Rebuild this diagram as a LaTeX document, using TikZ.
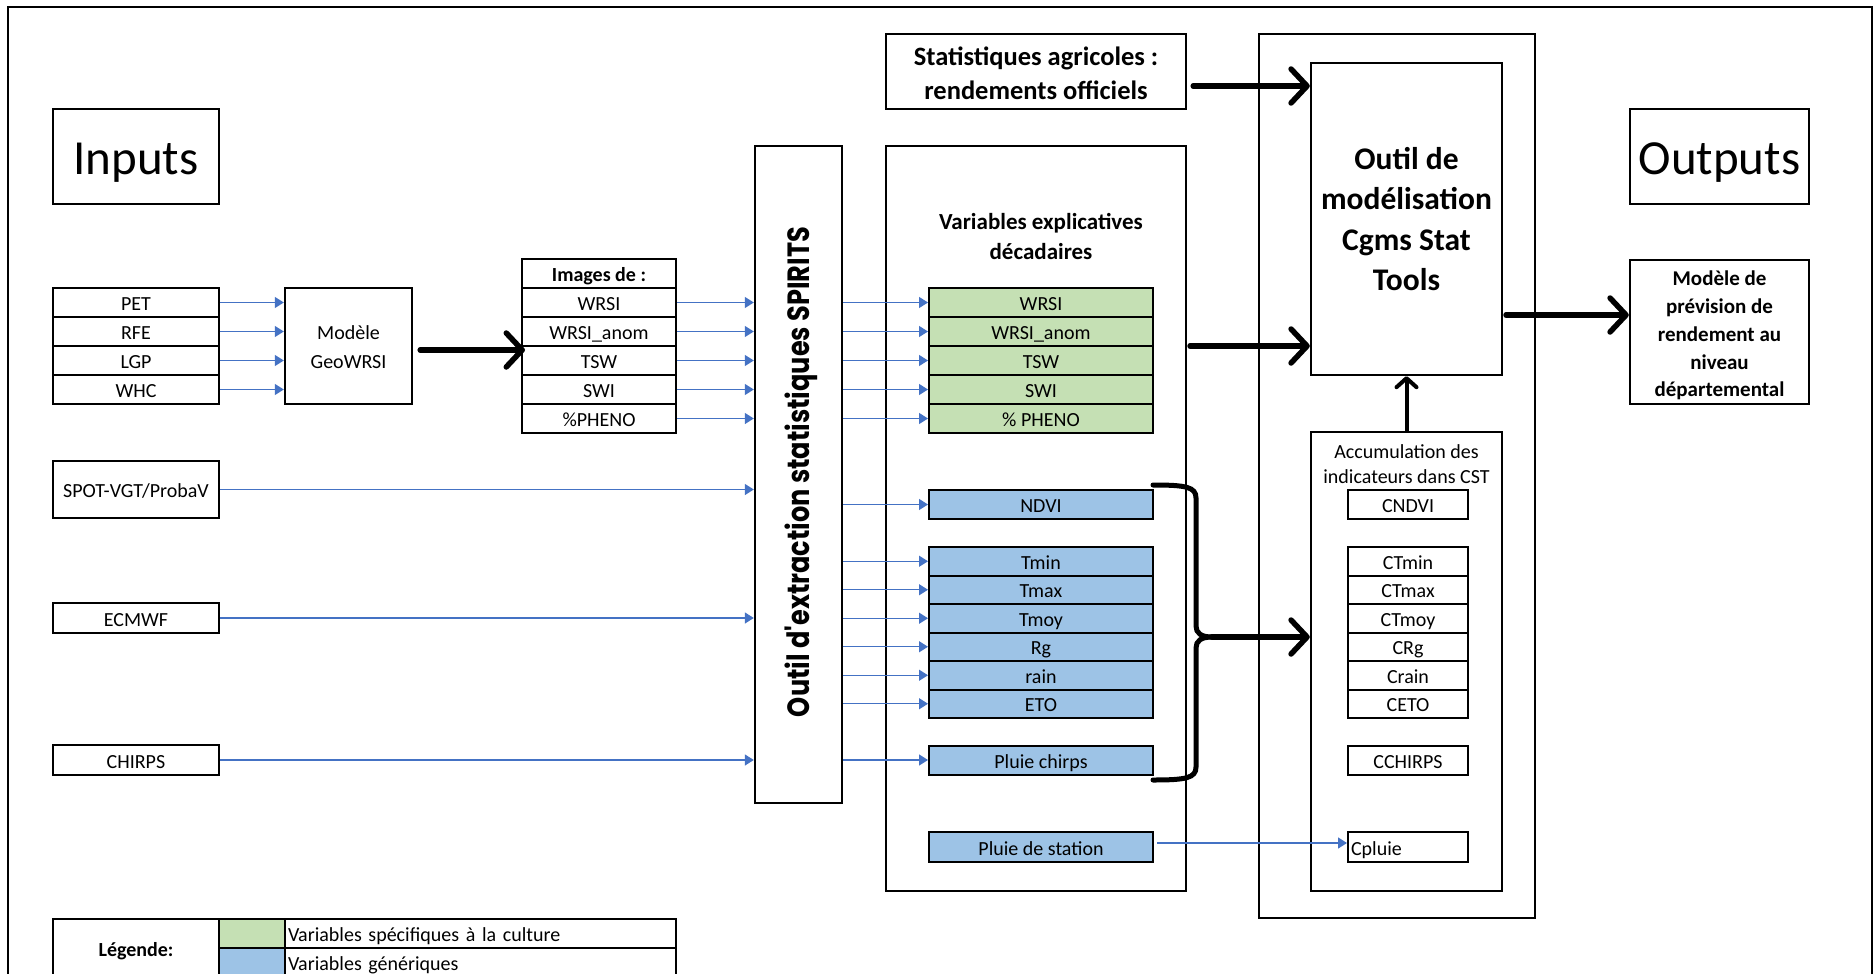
\documentclass[tikz,border=0pt]{standalone}
\usepackage{fontspec}
\usepackage{graphicx}
\setmainfont{Carlito}
\newfontfamily\popfont{Poppins}
\usetikzlibrary{arrows.meta}
\definecolor{arrowblue}{HTML}{4472C4}
\definecolor{greencell}{HTML}{C5E0B4}
\definecolor{bluecell}{HTML}{9DC3E6}
\newcommand{\fsz}[2]{\fontsize{#1}{#2}\selectfont}
\tikzset{
  box/.style={draw, line width=2.4pt, inner sep=0pt, align=center},
  label/.style={inner sep=0pt, align=center},
  cell/.style={draw, line width=2pt, inner sep=0pt, align=center, font=\fsz{20}{24}, text height=16pt, text depth=0pt},
  gcell/.style={cell, fill=greencell, minimum width=224, minimum height=29},
  bcell/.style={cell, fill=bluecell, minimum width=224, minimum height=28.5},
  ccell/.style={cell, minimum width=120, minimum height=28.5},
  icell/.style={cell, minimum width=166, minimum height=29},
  imcell/.style={cell, minimum width=154, minimum height=29},
  bigtitle/.style={box, font=\fsz{49}{58}, text height=36.6pt, text depth=0pt},
  barrow/.style={draw=arrowblue, line width=1.4pt, -{Triangle[length=9pt,width=11pt]}},
  tarrow/.style={line width=5.5pt, line cap=round, -{Straight Barb[length=16pt,width=34pt,round]}},
  tarrowsmall/.style={line width=4pt, line cap=round, -{Straight Barb[length=9pt,width=20pt,round]}},
  braceline/.style={line width=5pt, line cap=round},
}
\begin{document}
\begin{tikzpicture}[x=1pt,y=-1pt]
\useasboundingbox (0,0) rectangle (1874,974);
% outer frame
\draw[line width=1.2pt] (8,7) rectangle (1872,1000);

% ---------- left column ----------
\node[bigtitle, minimum width=166, minimum height=95] (inputs) at (136,156.5) {Inputs};

\node[icell] (pet) at (136,302.5) {PET};
\node[icell] (rfe) at (136,331.5) {RFE};
\node[icell] (lgp) at (136,360.5) {LGP};
\node[icell] (whc) at (136,389.5) {WHC};

\node[box, minimum width=127, minimum height=116] (geo) at (348.5,346) {};
\node[label, font=\fsz{20}{29}] (geotext) at (348.5,347.5) {Modèle\\GeoWRSI};

\node[icell, minimum height=57] (spot) at (136,489.5) {SPOT-VGT/ProbaV};
\node[icell, minimum height=30] (ecmwf) at (136,618) {ECMWF};
\node[icell, minimum height=30] (chirps) at (136,760) {CHIRPS};

% Images de
\node[imcell, font=\fsz{20}{24}\bfseries] (img0) at (599,273.5) {Images de :};
\node[imcell] (img1) at (599,302.5) {WRSI};
\node[imcell] (img2) at (599,331.5) {WRSI\_anom};
\node[imcell] (img3) at (599,360.5) {TSW};
\node[imcell] (img4) at (599,389.5) {SWI};
\node[imcell] (img5) at (599,418.5) {\%PHENO};

% SPIRITS
\node[box, minimum width=87, minimum height=657] (spirits) at (798.5,474.5) {};
\node[rotate=90, font=\popfont\bfseries\fsz{25.6}{30}] (spiritstext) at (801,472) {\scalebox{1}[1.2]{Outil d'extraction statistiques SPIRITS}};

% ---------- Variables explicatives ----------
\node[box, minimum width=300, minimum height=75] (stat) at (1036,71.5) {};
\node[label, font=\fsz{26.5}{34}\bfseries] (stattext) at (1036,73) {Statistiques agricoles :\\rendements officiels};
\node[box, minimum width=300, minimum height=745] (vars) at (1036,518.5) {};
\node[label, font=\fsz{23}{30}\bfseries] (varslabel) at (1041,236) {Variables explicatives\\décadaires};

\node[gcell] (g1) at (1041,302.5) {WRSI};
\node[gcell] (g2) at (1041,331.5) {WRSI\_anom};
\node[gcell] (g3) at (1041,360.5) {TSW};
\node[gcell] (g4) at (1041,389.5) {SWI};
\node[gcell] (g5) at (1041,418.5) {\% PHENO};

\node[bcell, minimum height=29] (ndvi) at (1041,504.5) {NDVI};
\node[bcell] (tmin) at (1041,561.25) {Tmin};
\node[bcell] (tmax) at (1041,589.75) {Tmax};
\node[bcell] (tmoy) at (1041,618.25) {Tmoy};
\node[bcell] (rg) at (1041,646.75) {Rg};
\node[bcell] (rain) at (1041,675.25) {rain};
\node[bcell] (eto) at (1041,703.75) {ETO};
\node[bcell, minimum height=29] (pchirps) at (1041,760) {Pluie chirps};
\node[bcell, minimum height=30] (station) at (1041,847) {Pluie de station};

% ---------- CGMS ----------
\node[box, minimum width=276, minimum height=884] (cgms) at (1397,476) {};
\node[box, minimum width=191, minimum height=312] (outil) at (1406.5,219) {};
\node[label, font=\fsz{31.5}{40.5}\bfseries] (outiltext) at (1406.5,219) {Outil de\\modélisation\\Cgms Stat\\Tools};
\node[box, minimum width=191, minimum height=459] (accum) at (1406.5,661.5) {};
\node[label, font=\fsz{20}{25}] (acclabel) at (1406.5,464.5) {Accumulation des\\indicateurs dans CST};

\node[ccell, minimum height=29] (cndvi) at (1408,504.5) {CNDVI};
\node[ccell] (ctmin) at (1408,561.25) {CTmin};
\node[ccell] (ctmax) at (1408,589.75) {CTmax};
\node[ccell] (ctmoy) at (1408,618.25) {CTmoy};
\node[ccell] (crg) at (1408,646.75) {CRg};
\node[ccell] (crain) at (1408,675.25) {Crain};
\node[ccell] (ceto) at (1408,703.75) {CETO};
\node[ccell, minimum height=29] (cchirps) at (1408,760) {CCHIRPS};
\node[ccell, minimum height=30, text width=114, align=left] (cpluie) at (1408,847) {Cpluie};

% ---------- Outputs ----------
\node[bigtitle, minimum width=179, minimum height=95] (outputs) at (1719.5,156.5) {Outputs};
\node[box, minimum width=179, minimum height=144] (modele) at (1719.5,332) {};
\node[label, font=\fsz{21}{27.8}\bfseries] (modeletext) at (1719.5,335.5) {Modèle de\\prévision de\\rendement au\\niveau\\départemental};

% ---------- Legend ----------
\node[cell, minimum width=166, minimum height=58, font=\fsz{20}{24}\bfseries] (legtitle) at (136,948) {Légende:};
\node[cell, fill=greencell, minimum width=66, minimum height=29] (leggreen) at (252,933.5) {};
\node[cell, fill=bluecell, minimum width=66, minimum height=29] (legblue) at (252,962.5) {};
\node[cell, minimum width=391, minimum height=29, text width=385, align=left] (legtg) at (480.5,933.5) {Variables spécifiques à la culture};
\node[cell, minimum width=391, minimum height=29, text width=385, align=left] (legtb) at (480.5,962.5) {Variables génériques};

% ---------- blue connectors ----------
\foreach \n in {pet,rfe,lgp,whc}
  \draw[barrow] (\n.east) -- (geo.west |- \n.east);
\foreach \n in {img1,img2,img3,img4,img5}
  \draw[barrow] (\n.east) -- (spirits.west |- \n.east);
\foreach \n in {spot,ecmwf,chirps}
  \draw[barrow] (\n.east) -- (spirits.west |- \n.east);
\foreach \n in {g1,g2,g3,g4,g5,ndvi,tmin,tmax,tmoy,rg,rain,eto,pchirps}
  \draw[barrow] (spirits.east |- \n.west) -- (\n.west);
\draw[barrow] ([xshift=3pt,yshift=4pt]station.east) -- ([yshift=4pt]cpluie.west);

% ---------- thick connectors ----------
\coordinate (g2i) at ([xshift=7pt,yshift=-4pt]geo.east);
\draw[tarrow] (g2i) -- ([xshift=4pt]img0.west |- g2i);
\coordinate (s2o) at ([xshift=6pt,yshift=-14.5pt]stat.east);
\draw[tarrow] (s2o) -- (outil.west |- s2o);
\coordinate (v2o) at (1190,346);
\draw[tarrow] (v2o) -- (outil.west |- v2o);
\coordinate (o2m) at (1506,315);
\draw[tarrow] (o2m) -- (modele.west |- o2m);
\draw[tarrowsmall] (accum.north) -- (outil.south);

% brace
\coordinate (bracetip) at (1212,637);
\draw[braceline] (1153,485) .. controls (1186,485) and (1196,487) .. (1196,498)
  -- (1196,626) .. controls (1196,633) and (1201,637) .. (bracetip);
\draw[braceline] (1153,780) .. controls (1186,780) and (1196,778) .. (1196,767)
  -- (1196,648) .. controls (1196,641) and (1201,637) .. (bracetip);
\draw[tarrow] (bracetip) -- (accum.west |- bracetip);
\end{tikzpicture}
\end{document}
